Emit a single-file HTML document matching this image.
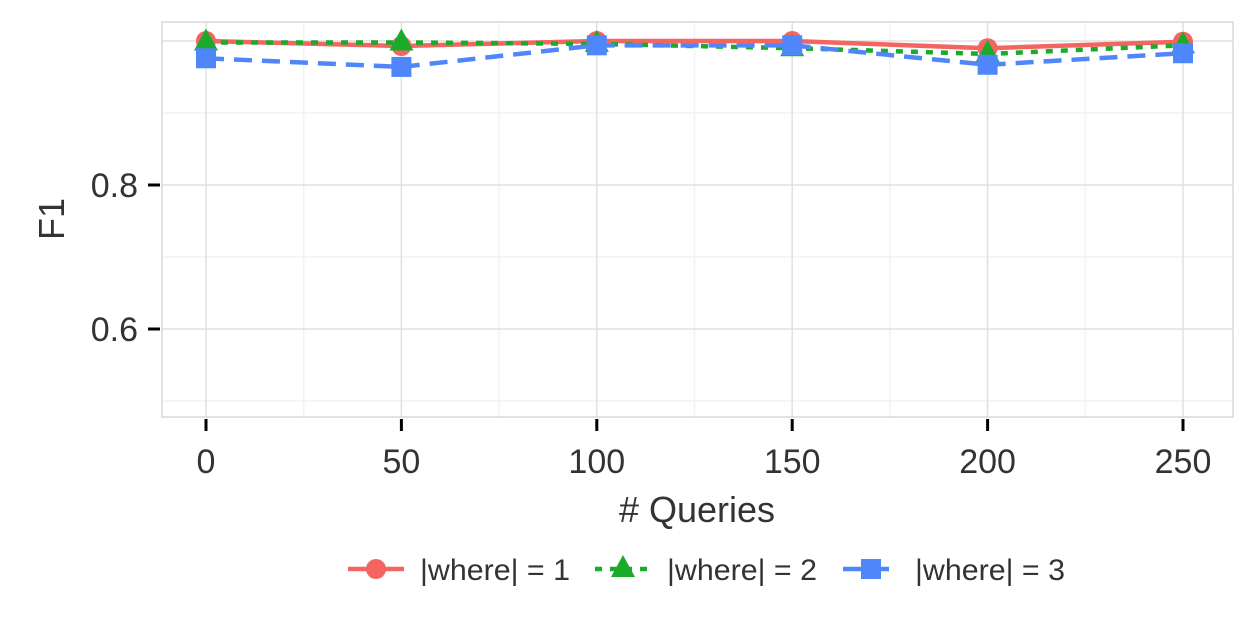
<!DOCTYPE html>
<html><head><meta charset="utf-8"><style>
body{margin:0;background:#fff;}
text{font-family:"Liberation Sans",sans-serif;}
</style></head><body>
<svg id="chart" width="1259" height="629" xmlns="http://www.w3.org/2000/svg"></svg>
<script>
const xValues=[0,50,100,150,200,250];
const series1=[1.0,0.993,1.0,1.0,0.99,0.999];
const series2=[0.998,0.998,0.996,0.99,0.982,0.994];
const series3=[0.976,0.964,0.994,0.994,0.967,0.983];
const xTicks=[0,50,100,150,200,250];
const yTicks=[0.6,0.8];
const seriesNames=["|where| = 1","|where| = 2","|where| = 3"];

const NS="http://www.w3.org/2000/svg";
const svg=document.getElementById('chart');
const L=162,R=1233,T=22,B=417;
const xs=v=>206+(v-0)*(1183-206)/250;
const ys=v=>185-(v-0.8)*720;
function el(tag,attrs,parent){const e=document.createElementNS(NS,tag);for(const k in attrs)e.setAttribute(k,attrs[k]);(parent||svg).appendChild(e);return e;}

const panel=el('rect',{x:L,y:T,width:R-L,height:B-T,fill:'#fff'});


[0.5,0.7,0.9].forEach(v=>{const g=el('line',{x1:L,x2:R,y1:ys(v),y2:ys(v),stroke:'#f2f2f2','stroke-width':1.5});

});
[25,75,125,175,225].forEach(v=>{const g=el('line',{x1:xs(v),x2:xs(v),y1:T,y2:B,stroke:'#f2f2f2','stroke-width':1.5});

});
[0.6,0.8,1.0].forEach(v=>{const g=el('line',{x1:L,x2:R,y1:ys(v),y2:ys(v),stroke:'#e0e0e0','stroke-width':1.5});

});
xTicks.forEach(v=>{const g=el('line',{x1:xs(v),x2:xs(v),y1:T,y2:B,stroke:'#e0e0e0','stroke-width':1.5});

});
const border=el('rect',{x:L,y:T,width:R-L,height:B-T,fill:'none',stroke:'#d9d9d9','stroke-width':1.5});



yTicks.forEach(v=>{
 const t=el('line',{x1:148,x2:160,y1:ys(v),y2:ys(v),stroke:'#000','stroke-width':3});
 
 
 const tx=el('text',{x:138,y:ys(v)+12,'text-anchor':'end','font-size':34,fill:'#333'});tx.textContent=v.toFixed(1);
 
 
});
xTicks.forEach(v=>{
 const t=el('line',{x1:xs(v),x2:xs(v),y1:419,y2:431,stroke:'#000','stroke-width':3});
 
 
 const tx=el('text',{x:xs(v),y:473,'text-anchor':'middle','font-size':34,fill:'#333'});tx.textContent=v;
 
 
});
const xt=el('text',{x:697,y:522,'text-anchor':'middle','font-size':36,fill:'#333'});xt.textContent='# Queries';


const yt=el('text',{x:0,y:0,'text-anchor':'middle','font-size':36,fill:'#333',transform:'translate(64,219) rotate(-90)'});yt.textContent='F1';



const colors=['#f26560','#1aab2a','#4f86fa'];
const dashes=['none','7,8','18,10'];
function marker(type,cx,cy,color,parent){
 if(type===0)return el('circle',{cx,cy,r:10,fill:color},parent);
 if(type===1)return el('polygon',{points:`${cx},${cy-14} ${cx-12},${cy+8} ${cx+12},${cy+8}`,fill:color},parent);
 return el('rect',{x:cx-10,y:cy-10,width:20,height:20,fill:color},parent);
}
[series1,series2,series3].forEach((s,i)=>{
 const g=el('g',{});
 
 
 const pts=s.map((v,j)=>xs(xValues[j])+','+ys(v)).join(' ');
 const pl=el('polyline',{points:pts,fill:'none',stroke:colors[i],'stroke-width':4.5,'stroke-dasharray':dashes[i]},g);
 
 
 s.forEach((v,j)=>{const m=marker(i,xs(xValues[j]),ys(v),colors[i],g);
 
 });
});

const legX=[348,595,843];
seriesNames.forEach((n,i)=>{
 const g=el('g',{});
 
 
 const ln=el('line',{x1:legX[i],x2:legX[i]+56,y1:569,y2:569,stroke:colors[i],'stroke-width':4.5,'stroke-dasharray':dashes[i]},g);
 
 
 const m=marker(i,legX[i]+28,569,colors[i],g);
 
 
 const t=el('text',{x:legX[i]+72,y:580,'font-size':30,fill:'#333','textLength':150,'lengthAdjust':'spacingAndGlyphs'},g);t.textContent=n;
 
 
});
</script>
</body></html>
